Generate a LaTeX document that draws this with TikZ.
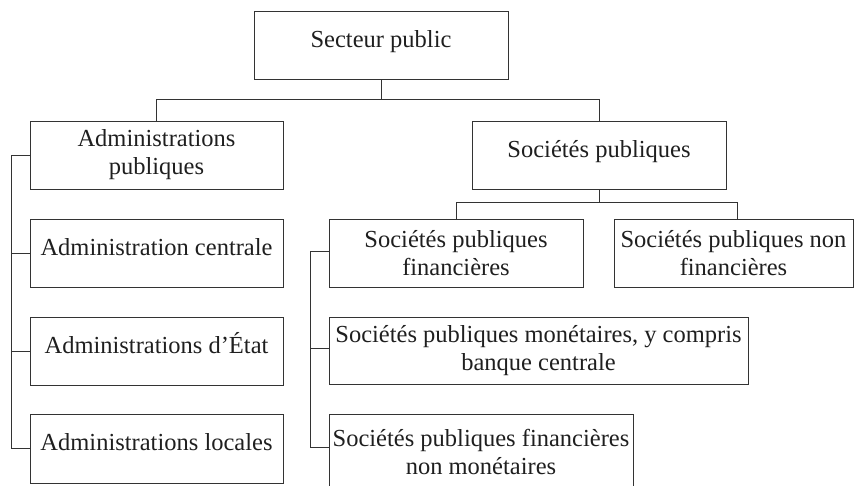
\documentclass[tikz,border=0pt]{standalone}
\usepackage{fontspec}
\setmainfont{Liberation Serif}
\begin{document}
\begin{tikzpicture}[x=1pt,y=-1pt,
  box/.style={draw=black!80, line width=1pt, rectangle, inner sep=0pt,
    text=black!88, align=center, font=\fontsize{24.5}{28}\selectfont},
  oneline/.style={text height=17pt, text depth=13pt},
  link/.style={draw=black!80, line width=1pt}]
\useasboundingbox (0,0) rectangle (854,485);
\node[box, oneline, minimum width=254pt, minimum height=68pt] (sp) at (381,45) {Secteur public};
\node[box, minimum width=253pt, minimum height=68pt] (ap) at (156.5,155) {Administrations\\publiques};
\node[box, oneline, minimum width=254pt, minimum height=68pt] (socp) at (599,155) {Sociétés publiques};
\node[box, oneline, minimum width=253pt, minimum height=68pt] (ac) at (156.5,253) {Administration centrale};
\node[box, oneline, minimum width=253pt, minimum height=68pt] (ae) at (156.5,351) {Administrations d’État};
\node[box, oneline, minimum width=253pt, minimum height=69pt] (al) at (156.5,448.5) {Administrations locales};
\node[box, minimum width=254pt, minimum height=68pt] (spf) at (456,253) {Sociétés publiques\\financières};
\node[box, minimum width=239pt, minimum height=68pt] (spnf) at (733.5,253) {Sociétés publiques non\\financières};
\node[box, minimum width=419pt, minimum height=67pt] (spm) at (538.5,350.5) {Sociétés publiques monétaires, y compris\\banque centrale};
\node[box, minimum width=304pt, minimum height=76pt] (spfnm) at (481,452) {Sociétés publiques financières\\non monétaires};
% top level
\draw[link] (sp.south) -- ++(0,20) coordinate (j1);
\draw[link] (j1) -| (ap.north);
\draw[link] (j1) -| (socp.north);
% societes publiques
\draw[link] (socp.south) -- ++(0,13) coordinate (j2);
\draw[link] (j2) -| (spf.north);
\draw[link] (j2) -| ([xshift=4pt]spnf.north);
% left bracket
\draw[link] (ap.west) -- ++(-18,0) |- (al.west);
\draw[link] (ac.west) -- ++(-18,0);
\draw[link] (ae.west) -- ++(-18,0);
% right bracket
\draw[link] ([yshift=2pt]spf.west) -- ++(-18,0) |- ([yshift=5pt]spfnm.west);
\draw[link] ([yshift=2pt]spm.west) -- ++(-18,0);
\end{tikzpicture}
\end{document}
